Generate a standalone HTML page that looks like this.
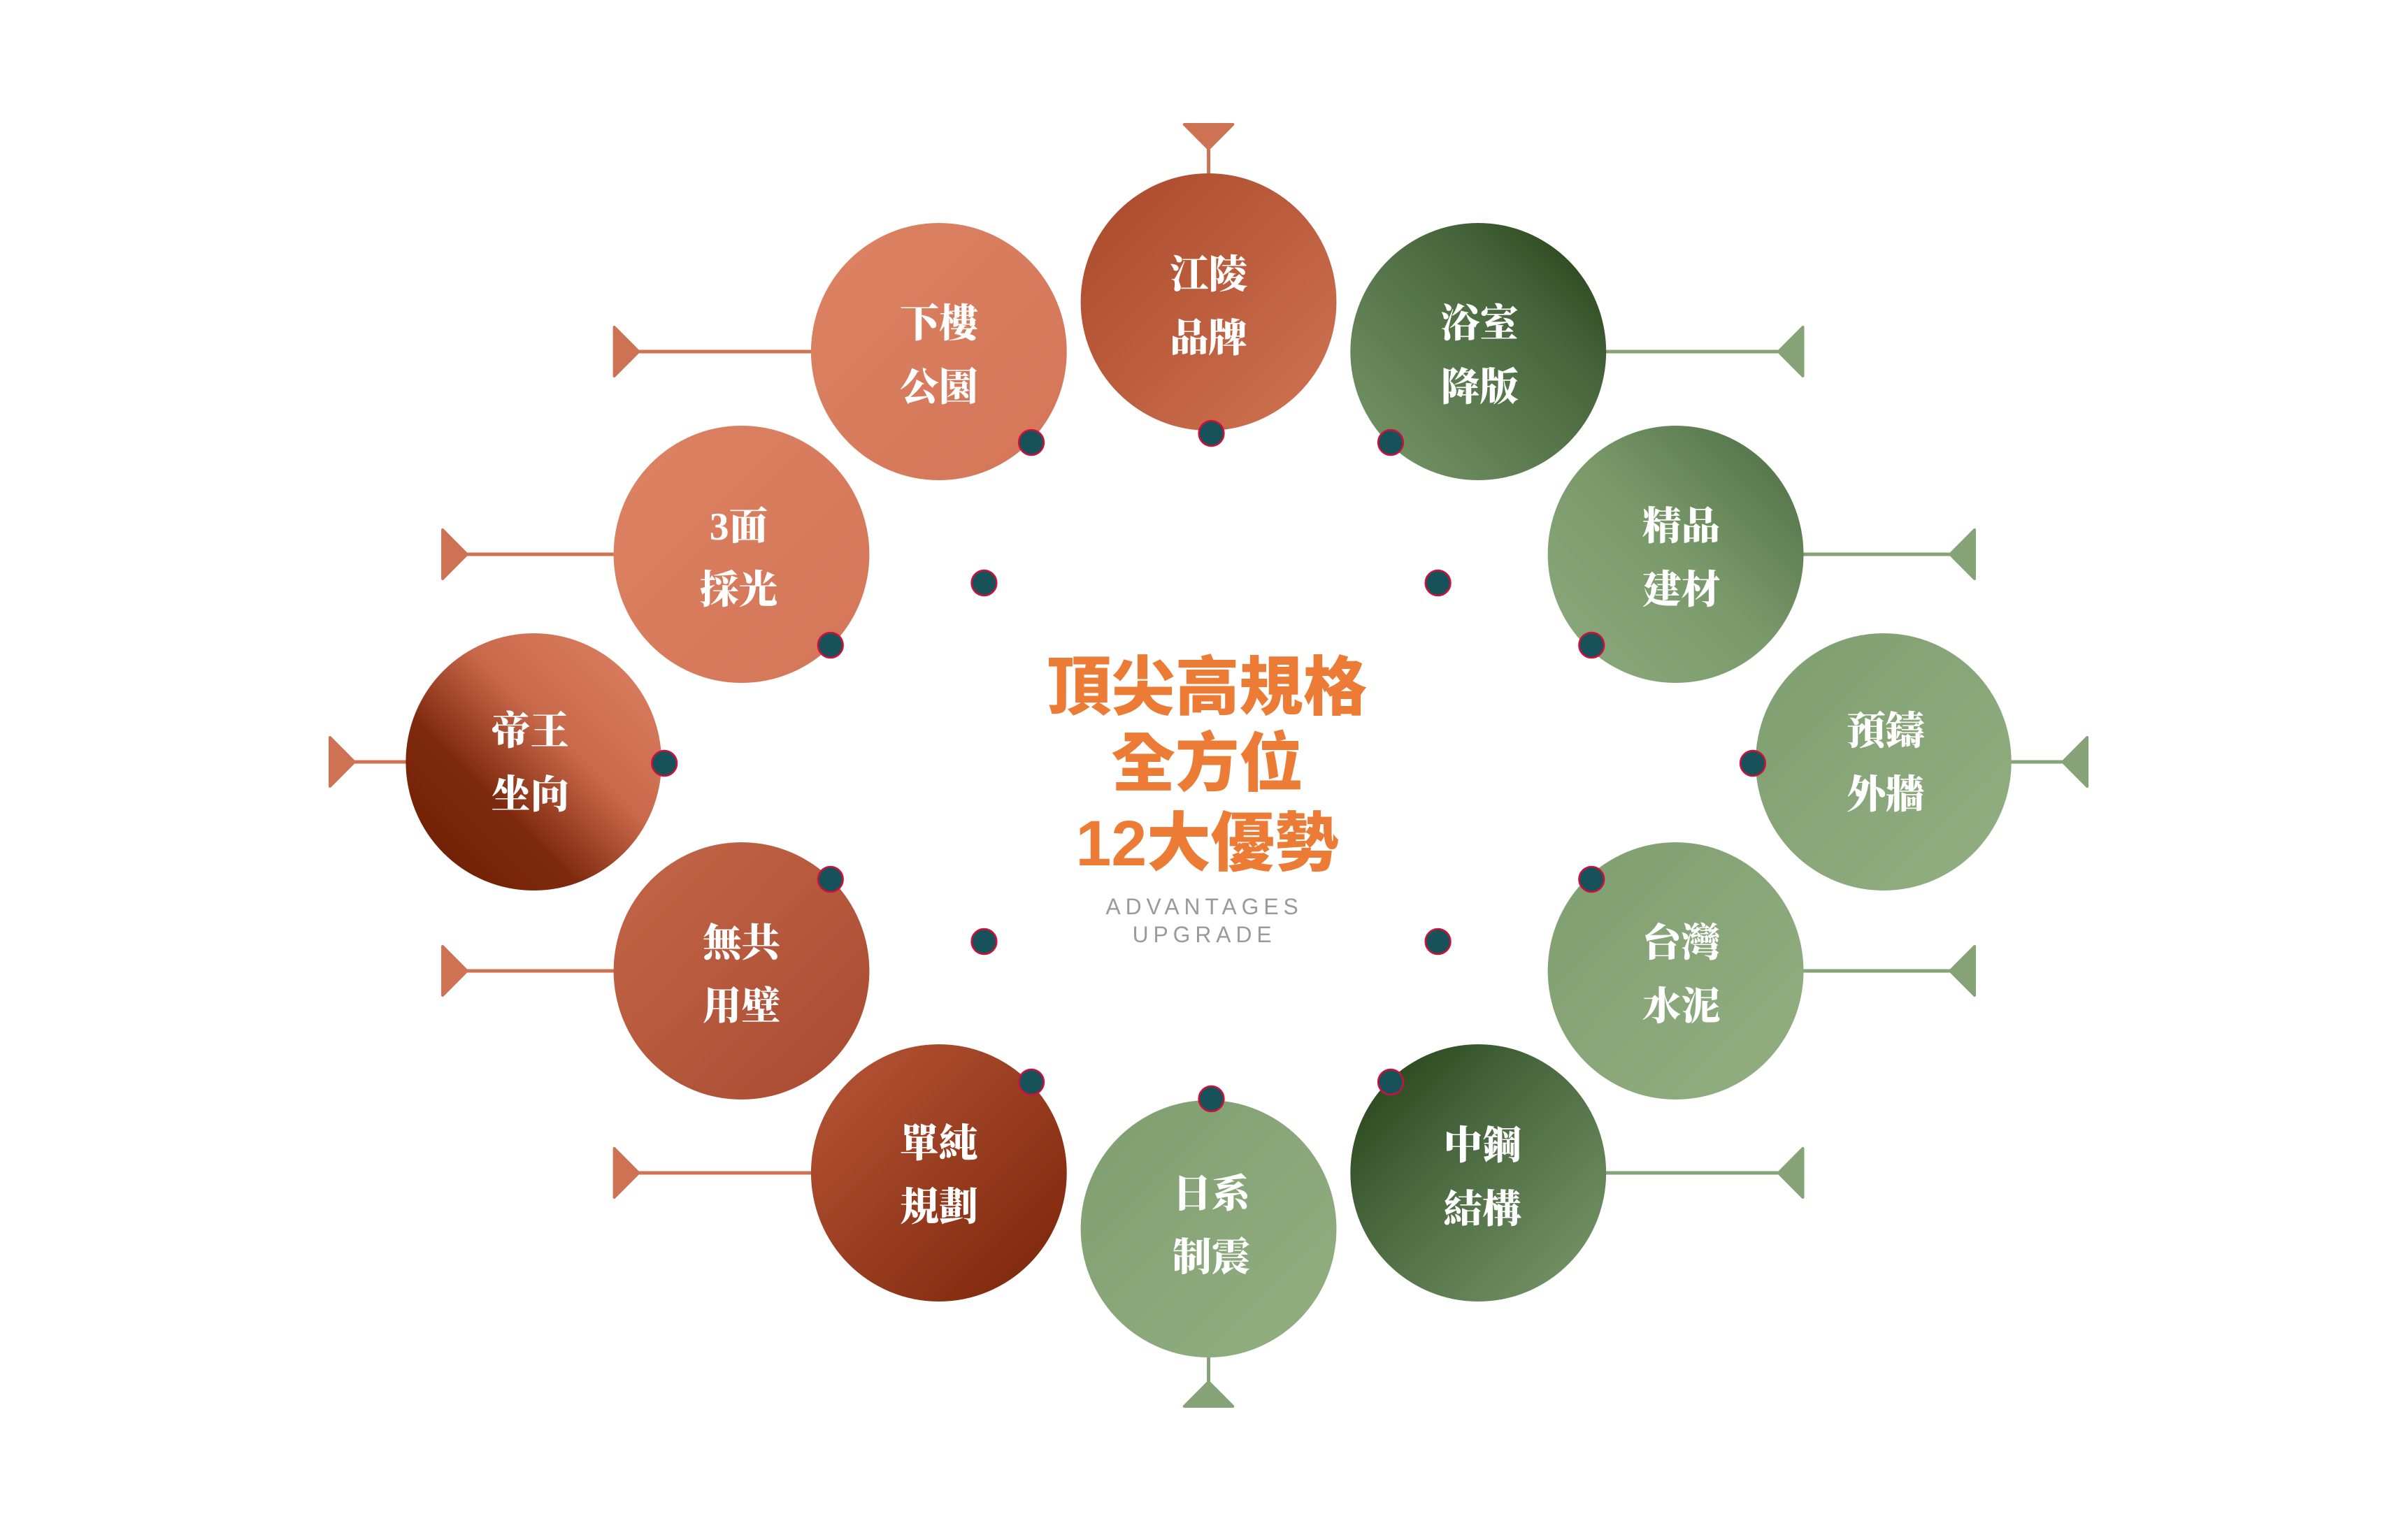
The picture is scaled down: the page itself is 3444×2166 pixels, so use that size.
<!DOCTYPE html>
<html><head><meta charset="utf-8"><style>
html,body{margin:0;padding:0;background:#fff;}
svg{display:block;}
.l{font-family:"Liberation Serif","Noto Serif CJK SC","Noto Serif CJK TC",serif;font-weight:900;font-size:56px;fill:#fff;text-anchor:middle;}
.t{font-family:"Liberation Sans","Noto Sans CJK TC",sans-serif;font-weight:900;font-size:92px;fill:#ec7b36;text-anchor:middle;}
.e{font-family:"Liberation Sans","DejaVu Sans",sans-serif;font-size:32px;fill:#9a9a9a;text-anchor:middle;letter-spacing:7px;}
</style></head><body>
<svg width="3444" height="2166" viewBox="0 0 3444 2166" xmlns="http://www.w3.org/2000/svg">
<defs>
<linearGradient id="gA" x1="0" y1="0" x2="1" y2="1"><stop offset="0" stop-color="#a9482a"/><stop offset="1" stop-color="#cf7452"/></linearGradient>
<linearGradient id="gB" x1="0" y1="0" x2="1" y2="1"><stop offset="0" stop-color="#dc8263"/><stop offset="1" stop-color="#d47558"/></linearGradient>
<linearGradient id="gC" x1="0" y1="1" x2="1" y2="0"><stop offset="0" stop-color="#6b1c00"/><stop offset="0.35" stop-color="#7f2a0e"/><stop offset="0.6" stop-color="#c9694b"/><stop offset="1" stop-color="#de8465"/></linearGradient>
<linearGradient id="gD" x1="0" y1="0" x2="1" y2="1"><stop offset="0" stop-color="#c36648"/><stop offset="1" stop-color="#a84a30"/></linearGradient>
<linearGradient id="gE" x1="0" y1="0" x2="1" y2="1"><stop offset="0" stop-color="#b85638"/><stop offset="1" stop-color="#7a2408"/></linearGradient>
<linearGradient id="gF" x1="1" y1="0" x2="0" y2="1"><stop offset="0" stop-color="#1f3a10"/><stop offset="0.3" stop-color="#44633a"/><stop offset="1" stop-color="#7a9a6c"/></linearGradient>
<linearGradient id="gF2" x1="0" y1="0" x2="1" y2="1"><stop offset="0" stop-color="#1f3a10"/><stop offset="0.35" stop-color="#44633a"/><stop offset="1" stop-color="#7a9a6c"/></linearGradient>
<linearGradient id="gG" x1="1" y1="0" x2="0" y2="1"><stop offset="0" stop-color="#4a6b40"/><stop offset="0.5" stop-color="#7a9a6c"/><stop offset="1" stop-color="#8dab7e"/></linearGradient>
<linearGradient id="gH" x1="0" y1="0" x2="1" y2="1"><stop offset="0" stop-color="#7f9e70"/><stop offset="1" stop-color="#92af82"/></linearGradient>
</defs>
<rect width="3444" height="2166" fill="#fff"/>
<g transform="translate(472,0) scale(0.9941,1) translate(-472,0)">
<!-- connectors left (orange) -->
<g fill="#cd7354" stroke="#cd7354">
<line x1="507" y1="1090" x2="600" y2="1090" stroke-width="5"/>
<path d="M472 1055 L507 1090 L472 1125 Z" stroke-width="4" stroke-linejoin="round"/>
<line x1="669" y1="793" x2="900" y2="793" stroke-width="5"/>
<path d="M634 758 L669 793 L634 828 Z" stroke-width="4" stroke-linejoin="round"/>
<line x1="669" y1="1389" x2="900" y2="1389" stroke-width="5"/>
<path d="M634 1354 L669 1389 L634 1424 Z" stroke-width="4" stroke-linejoin="round"/>
<line x1="916" y1="503" x2="1200" y2="503" stroke-width="5"/>
<path d="M881 468 L916 503 L881 538 Z" stroke-width="4" stroke-linejoin="round"/>
<line x1="916" y1="1678" x2="1200" y2="1678" stroke-width="5"/>
<path d="M881 1643 L916 1678 L881 1713 Z" stroke-width="4" stroke-linejoin="round"/>
<line x1="1736" y1="213" x2="1736" y2="300" stroke-width="5"/>
<path d="M1701 178 L1771 178 L1736 213 Z" stroke-width="4" stroke-linejoin="round"/>
</g>
<!-- connectors right (green) -->
<g fill="#86a277" stroke="#86a277">
<line x1="2965" y1="1090" x2="2860" y2="1090" stroke-width="5"/>
<path d="M3000 1055 L2965 1090 L3000 1125 Z" stroke-width="4" stroke-linejoin="round"/>
<line x1="2803" y1="793" x2="2560" y2="793" stroke-width="5"/>
<path d="M2838 758 L2803 793 L2838 828 Z" stroke-width="4" stroke-linejoin="round"/>
<line x1="2803" y1="1389" x2="2560" y2="1389" stroke-width="5"/>
<path d="M2838 1354 L2803 1389 L2838 1424 Z" stroke-width="4" stroke-linejoin="round"/>
<line x1="2556" y1="503" x2="2280" y2="503" stroke-width="5"/>
<path d="M2591 468 L2556 503 L2591 538 Z" stroke-width="4" stroke-linejoin="round"/>
<line x1="2556" y1="1678" x2="2280" y2="1678" stroke-width="5"/>
<path d="M2591 1643 L2556 1678 L2591 1713 Z" stroke-width="4" stroke-linejoin="round"/>
<line x1="1736" y1="1977" x2="1736" y2="1900" stroke-width="5"/>
<path d="M1701 2012 L1771 2012 L1736 1977 Z" stroke-width="4" stroke-linejoin="round"/>
</g>

<!-- circles -->
<circle cx="1736" cy="432" r="184" fill="url(#gA)"/>
<circle cx="1348" cy="503" r="184" fill="url(#gB)"/>
<circle cx="1064" cy="793" r="184" fill="url(#gB)"/>
<circle cx="765" cy="1090" r="184" fill="url(#gC)"/>
<circle cx="1064" cy="1389" r="184" fill="url(#gD)"/>
<circle cx="1348" cy="1678" r="184" fill="url(#gE)"/>
<circle cx="1736" cy="1758" r="184" fill="url(#gH)"/>
<circle cx="2124" cy="1678" r="184" fill="url(#gF2)"/>
<circle cx="2408" cy="1389" r="184" fill="url(#gH)"/>
<circle cx="2707" cy="1090" r="184" fill="url(#gH)"/>
<circle cx="2408" cy="793" r="184" fill="url(#gG)"/>
<circle cx="2124" cy="503" r="184" fill="url(#gF)"/>

<!-- labels -->
<g class="l">
<text x="1736" y="412">江陵</text><text x="1736" y="503">品牌</text>
<text x="1348" y="482">下樓</text><text x="1348" y="573">公園</text>
<text x="1060" y="772">3面</text><text x="1060" y="863">採光</text>
<text x="760" y="1065">帝王</text><text x="760" y="1156">坐向</text>
<text x="1064" y="1368">無共</text><text x="1064" y="1459">用壁</text>
<text x="1348" y="1655">單純</text><text x="1348" y="1746">規劃</text>
<text x="1740" y="1727">日系</text><text x="1740" y="1818">制震</text>
<text x="2130" y="1658">中鋼</text><text x="2130" y="1749">結構</text>
<text x="2416" y="1368">台灣</text><text x="2416" y="1459">水泥</text>
<text x="2710" y="1065">預鑄</text><text x="2710" y="1156">外牆</text>
<text x="2416" y="772">精品</text><text x="2416" y="863">建材</text>
<text x="2126" y="482">浴室</text><text x="2126" y="573">降版</text>
</g>

<!-- dots -->
<g fill="#17525a" stroke="#d0103a" stroke-width="2.5">
<circle cx="1740" cy="620" r="18"/>
<circle cx="1481" cy="633" r="18"/>
<circle cx="1998" cy="633" r="18"/>
<circle cx="1192" cy="923" r="18"/>
<circle cx="2287" cy="923" r="18"/>
<circle cx="953" cy="1092" r="18"/>
<circle cx="2519" cy="1092" r="18"/>
<circle cx="1192" cy="1258" r="18"/>
<circle cx="2287" cy="1258" r="18"/>
<circle cx="1481" cy="1548" r="18"/>
<circle cx="1998" cy="1548" r="18"/>
<circle cx="1740" cy="1572" r="18"/>
<circle cx="1413" cy="834" r="18"/>
<circle cx="2066" cy="834" r="18"/>
<circle cx="1413" cy="1347" r="18"/>
<circle cx="2066" cy="1347" r="18"/>
</g>

<!-- center title -->
<text class="t" x="1734" y="1015">頂尖高規格</text>
<text class="t" x="1734" y="1124">全方位</text>
<text class="t" x="1734" y="1238">12大優勢</text>
<text class="e" x="1730" y="1308">ADVANTAGES</text>
<text class="e" x="1730" y="1348">UPGRADE</text>
</g>
</svg>
</body></html>
